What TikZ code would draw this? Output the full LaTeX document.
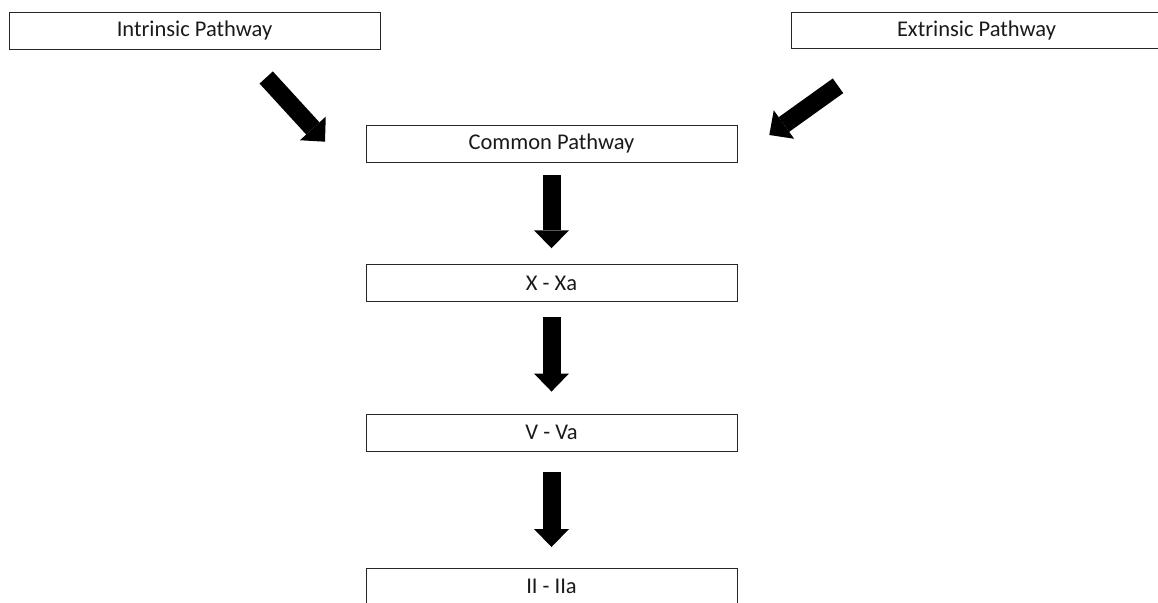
\documentclass[tikz,border=0pt]{standalone}
\usepackage{fontspec}
\setmainfont{Carlito}
\usetikzlibrary{arrows.meta}
\definecolor{txt}{HTML}{1A1A1A}
\begin{document}
\begin{tikzpicture}[x=1pt,y=-1pt,
  box/.style={draw=black!85, line width=1pt, minimum width=371pt, minimum height=36.5pt,
    inner sep=0pt, text=txt, font=\fontsize{22.5}{25}\selectfont},
  bigarrow/.style={line width=18pt, black,
    -{Triangle[width=35pt,length=18pt,line width=0pt]}}]
\useasboundingbox (0,0) rectangle (1158,602);
\node[box] (intr) at (194.5,30.8) {Intrinsic Pathway};
\node[box] (extr) at (976.5,30.5) {Extrinsic Pathway};
\node[box] (comm) at (551.5,144) {Common Pathway};
\node[box] (xxa) at (551.5,283) {X - Xa};
\node[box] (vva) at (551.5,432.8) {V - Va};
\node[box, anchor=north] (iia) at (551.5,568) {II - IIa};
\coordinate (itail) at (266.2,77.5);
\coordinate (itip) at (325,141.7);
\coordinate (etail) at (838,85.8);
\coordinate (etip) at (769.3,135);
\draw[bigarrow] (itail) -- (itip);
\draw[bigarrow] (etail) -- (etip);
\draw[bigarrow, shorten <=12pt, shorten >=16pt] (comm.south) -- (xxa.north);
\draw[bigarrow, shorten <=15.5pt, shorten >=22.5pt] (xxa.south) -- (vva.north);
\draw[bigarrow, shorten <=20pt, shorten >=21pt] (vva.south) -- (iia.north);
\end{tikzpicture}
\end{document}
